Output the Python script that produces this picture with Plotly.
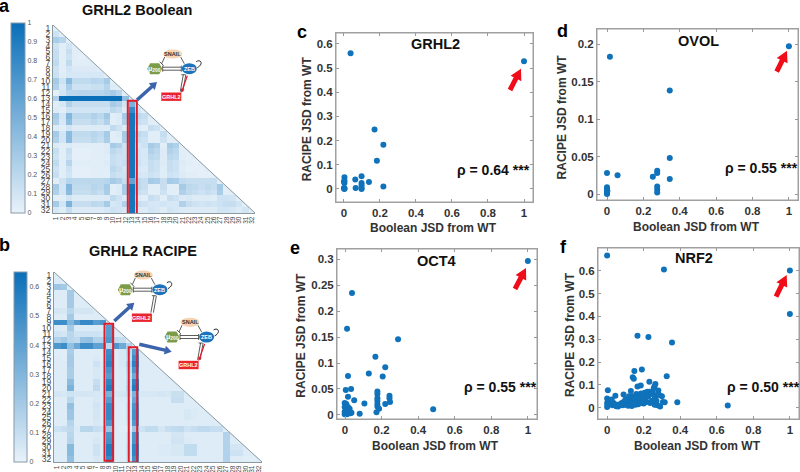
import plotly.graph_objects as go

W, H = 800, 472
FONT = "Liberation Sans"

# ---------- heatmap data (lower triangle, values in percent, rows 2..32) ----------
boolean_rows = [
 [12],
 [28,22],
 [12,3,10],
 [15,3,15,3],
 [15,3,12,3,2],
 [18,3,18,3,3,3],
 [12,3,10,6,6,6,6],
 [13,4,8,8,8,8,8,8],
 [30,12,42,18,18,18,22,20,30],
 [25,8,28,12,12,12,14,14,22,5],
 [2,10,20,20,22,22,22,22,25,30,22],
 [25,100,100,100,100,100,100,100,100,100,100,40],
 [3,8,25,15,15,15,15,15,15,30,25,10,50],
 [5,3,12,10,10,10,10,10,10,20,15,5,80,10],
 [30,10,45,20,20,20,25,20,32,3,5,30,95,20,15],
 [25,8,40,15,15,15,20,15,25,3,5,25,95,15,12,3],
 [5,3,10,5,5,5,5,5,5,18,12,5,95,5,3,15,12],
 [30,10,42,18,18,18,22,18,30,3,5,30,95,20,15,3,3,15],
 [25,10,42,15,15,15,20,15,28,3,4,28,95,15,12,3,3,12,3],
 [5,3,5,3,3,3,3,3,5,30,25,12,95,8,12,30,25,3,30,25],
 [15,3,15,2,2,2,3,3,5,20,15,12,95,10,8,25,20,5,25,20,3],
 [12,3,12,2,2,2,3,3,3,15,12,12,95,10,8,20,18,5,20,18,3,2],
 [18,3,22,3,3,3,3,3,5,15,12,15,95,12,8,15,12,5,15,12,5,3,2],
 [12,3,12,2,2,2,3,3,3,20,15,10,95,8,6,15,12,4,15,12,4,2,2,2],
 [15,3,10,2,2,2,3,3,3,15,12,12,95,10,8,12,10,4,12,10,5,3,3,2,2],
 [3,12,22,20,20,20,20,20,22,30,25,15,60,20,15,30,28,15,30,28,18,15,15,15,15,15],
 [30,10,45,18,18,18,22,20,30,3,5,30,95,20,15,3,3,15,3,3,30,20,18,15,18,15,30],
 [25,10,42,15,15,15,20,15,28,3,5,28,95,15,12,3,3,12,3,3,25,18,15,12,15,12,28,3],
 [3,3,10,5,5,5,5,5,6,18,12,5,95,5,3,15,12,3,15,12,6,8,5,5,5,4,12,12,10],
 [30,10,48,15,15,15,20,18,30,8,10,25,95,15,12,8,8,10,8,8,25,15,12,10,12,10,12,15,15,10],
 [8,4,15,5,5,5,5,5,8,12,10,8,95,6,5,10,8,4,10,8,6,5,5,5,5,5,10,10,8,5,10],
]
racipe_rows = [
 [4],
 [22,20],
 [3,3,20],
 [3,3,20,3],
 [3,3,20,3,3],
 [6,5,14,6,6,6],
 [3,3,20,3,3,3,3],
 [50,50,30,42,52,52,42,46],
 [4,3,20,4,4,4,4,3,42],
 [8,6,14,8,8,8,8,6,42,3],
 [16,20,14,12,24,25,16,16,45,12,10],
 [45,50,25,36,50,50,40,40,12,45,35,16],
 [2,2,18,3,3,3,3,2,50,3,5,12,42],
 [3,2,20,3,3,3,4,2,52,3,5,10,50,3],
 [3,3,20,3,3,3,8,3,55,3,5,16,55,3,3],
 [3,3,18,3,3,3,5,3,46,3,4,12,46,3,3,3],
 [3,3,18,3,3,3,5,3,42,3,4,10,36,3,3,3,3],
 [3,3,27,3,3,3,10,3,54,3,4,11,54,3,3,3,3,3],
 [3,3,32,3,3,3,12,3,58,3,4,13,58,3,3,3,3,3,3],
 [6,5,8,6,6,6,5,4,32,5,6,10,32,5,5,5,6,5,9,9],
 [3,3,14,3,3,3,5,3,42,3,4,6,38,3,3,3,3,3,10,10,3],
 [3,3,25,3,3,3,7,3,52,3,3,8,46,3,3,3,3,3,3,3,3,3],
 [3,3,22,3,3,3,6,3,52,3,3,8,48,3,3,3,3,3,3,3,5,4,3],
 [3,3,22,3,3,3,6,3,52,3,3,8,48,3,3,3,3,3,3,3,5,4,3,3],
 [3,3,15,3,3,3,5,3,46,3,3,6,44,3,3,3,3,3,3,3,3,3,3,3,3],
 [8,10,12,4,14,14,10,8,22,3,2,2,22,8,11,11,6,10,11,12,8,10,12,12,10,10],
 [3,3,14,3,3,3,4,3,46,3,3,6,46,3,3,3,3,3,6,6,3,3,3,3,3,3,16],
 [3,3,15,3,3,3,5,3,48,3,3,6,46,3,3,3,3,3,7,7,4,3,3,3,3,3,16,3],
 [3,3,28,3,3,3,8,3,58,3,3,8,54,3,3,3,4,4,5,5,11,11,3,3,3,3,16,6,6],
 [3,3,28,3,3,3,8,3,58,3,3,8,54,3,3,3,4,4,5,5,11,11,3,3,3,3,16,8,8,3],
 [3,3,25,3,3,3,5,3,52,3,3,6,48,3,3,3,3,3,3,3,3,3,3,3,3,3,16,3,3,2,2],
]
cell_labels = [str(i) for i in range(1, 33)]
bool_cbar_ticks = [0,0.1,0.2,0.3,0.4,0.5,0.6,0.7,0.8,0.9,1]
racipe_cbar_ticks = [0,0.1,0.2,0.3,0.4,0.5,0.6]

# ---------- scatter data ----------
c_x = [.037,1,.17,.219,.183,.098,.063,.139,.219,.065,.098,.098,.098,.098,.003,.003,.003,0,.004,0,.002]
c_y = [.561,.528,.246,.183,.117,.052,.039,.029,.01,.004,.025,.015,.004,0,.048,.034,.025,.004,.002,.03,.0]
d_x = [.016,1,.345,.345,.345,.276,.276,.252,.276,.276,.276,.058,0,0,0,0,0,0,0,.002]
d_y = [.183,.197,.138,.048,.02,.031,.028,.023,.01,.006,.002,.025,.028,.009,.007,.005,.003,.001,0,.004]
e_x = [1,.038,.011,.29,.166,.22,.13,.206,.016,.033,.004,.016,.05,.106,.08,.482,.177,.177,.177,.177,.177,.177,.186,.172,.243,.243,.246,.22,
       -.002,.007,-.002,.016,.025,.007,-.002,.016,.035,-.002,.011,.029,.022]
e_y = [.297,.235,.166,.146,.112,.092,.08,.074,.075,.05,.048,.035,.028,.022,.002,.011,.045,.04,.032,.027,.021,.016,.012,.005,.037,.032,.025,.021,
       .023,.021,.015,.015,.012,.009,.006,.006,.004,.001,.001,.003,.009]
f_x = [0,.311,1,1,.166,.226,.355,.19,.149,.14,.146,.326,.231,.264,.259,.166,.184,.004,.66,.384,.315,
       0,0,0,.005,.01,.015,.02,.03,.035,.04,.045,.05,.055,.06,.07,.08,.085,.09,.09,.1,.105,.11,.115,.12,.125,.13,.135,.135,.14,.145,.15,.155,.16,.165,.17,.175,.18,.185,.19,.195,.2,.205,.21,.215,.22,.225,.23,.235,.24,.245,.25,.255,.26,.265,.27,.275,.28,.285,.29,.3,.305,.145,.165,.185,.21,.26,.28,.002,.012,.025,.1,.12]
f_y = [.667,.606,.601,.411,.315,.31,.285,.167,.161,.133,.126,.138,.113,.104,.092,.092,.097,.076,.009,.023,.023,
       .04,.02,.003,.028,.012,.03,.018,.01,.02,.015,.052,.006,.012,.005,.015,.02,.01,.057,.025,.012,.03,.02,.008,.04,.014,.073,.025,.007,.05,.02,.035,.012,.06,.028,.015,.05,.04,.02,.06,.03,.018,.065,.045,.025,.07,.05,.07,.02,.06,.03,.065,.085,.04,.05,.03,.01,.075,.055,.005,.05,.025,.015,.045,.062,.035,.012,.06,.01,.02,.035,.035,.05]

scatter_xticks = [0,.2,.4,.6,.8,1]
panels = [
 dict(x=c_x,y=c_y,box=(336,533,33,202),xr=(-.044,1.05),yr=(-.054,.645),yt=[0,.1,.2,.3,.4,.5,.6]),
 dict(x=d_x,y=d_y,box=(597,798,29,200),xr=(-.055,1.05),yr=(-.008,.22),yt=[0,.05,.1,.15,.2]),
 dict(x=e_x,y=e_y,box=(337,537,249,419),xr=(-.044,1.05),yr=(-.008,.32),yt=[0,.05,.1,.15,.2,.25,.3]),
 dict(x=f_x,y=f_y,box=(598,799,248,419),xr=(-.05,1.05),yr=(-.05,.70),yt=[0,.1,.2,.3,.4,.5,.6]),
]

def px(x): return x / W
def py(y): return 1 - y / H

fig = go.Figure()
shapes, notes = [], []

def text(x, y, s, size=12, color="#222222", bold=True, angle=0):
    notes.append(dict(xref="paper", yref="paper", x=px(x), y=py(y), text=s, showarrow=False,
                      xanchor="center", yanchor="middle", textangle=angle,
                      font=dict(family=FONT, size=size, color=color, weight="bold" if bold else "normal")))

def matrix(rows, diag=3):
    z = [[diag/100] + [None]*31]
    for i, r in enumerate(rows):
        assert len(r) == i + 1, (i, len(r))
        z.append([v/100 for v in r] + [diag/100] + [None]*(30 - i))
    return z

SCALE = [[0, "#e8f2fa"], [1, "#0a6fb9"]]
hm = [
 dict(rows=boolean_rows, box=(53,255,25,213), zmax=1, ticks=bool_cbar_ticks, cb=(10.7,22.7,189.5,13.6)),
 dict(rows=racipe_rows, box=(54,262,272,462), zmax=.65, ticks=racipe_cbar_ticks, cb=(14,272,190,13)),
]
axn = 1
for h in hm:
    x0,x1,y0,y1 = h["box"]
    sx = "" if axn == 1 else str(axn)
    fig.add_trace(go.Heatmap(z=matrix(h["rows"]), x=list(range(1,33)), y=list(range(1,33)),
        zmin=0, zmax=h["zmax"], colorscale=SCALE, hoverongaps=False, xgap=0, ygap=0,
        xaxis="x"+sx, yaxis="y"+sx,
        colorbar=dict(x=px(h["cb"][0]), xanchor="left", y=py(h["cb"][1]), yanchor="top",
            len=h["cb"][2]/H, lenmode="fraction", thickness=h["cb"][3], thicknessmode="pixels",
            xpad=0, ypad=0, outlinecolor="#8a9aa8", outlinewidth=1, tickvals=h["ticks"],
            ticks="", ticklabelposition="outside",
            tickfont=dict(family=FONT, size=7, color="#555555"))))
    fig.update_layout({
        "xaxis"+sx: dict(domain=[px(x0),px(x1)], range=[.5,32.5], tickvals=list(range(1,33)), ticktext=cell_labels,
            tickangle=-90, tickfont=dict(family=FONT,size=6.5,color="#444444"), ticks="", showgrid=False, zeroline=False,
            showline=True, linecolor="#8a9a9f", linewidth=1, anchor="y"+sx),
        "yaxis"+sx: dict(domain=[py(y1),py(y0)], range=[32.5,.5], tickvals=list(range(1,33)), ticktext=cell_labels,
            tickfont=dict(family=FONT,size=8.5,color="#444444"), ticks="", showgrid=False, zeroline=False,
            showline=True, linecolor="#8a9a9f", linewidth=1, anchor="x"+sx),
    })
    # white mask above the diagonal with the grey edge
    shapes.append(dict(type="path", xref="x"+sx, yref="y"+sx,
        path="M 0.5 0.5 L 32.6 32.5 L 33 0.5 Z", fillcolor="white", line=dict(width=0), layer="above"))
    shapes.append(dict(type="line", xref="x"+sx, yref="y"+sx, x0=.5,y0=.5,x1=32.5,y1=32.5,
        line=dict(color="#8a9a9f",width=1), layer="above"))
    axn += 1

# red column boxes
for ax, (a,b,c,d) in [("",(12.35,13.78,13.4,33.0)), ("2",(8.27,9.6,9.2,32.3)), ("2",(12.0,13.3,13.17,32.6))]:
    shapes.append(dict(type="rect", xref="x"+ax, yref="y"+ax, x0=a,x1=b,y0=c,y1=d,
        line=dict(color="#e01b2a",width=2), layer="above"))

# scatter panels
for p in panels:
    x0,x1,y0,y1 = p["box"]
    sx = str(axn)
    fig.add_trace(go.Scatter(x=p["x"], y=p["y"], mode="markers", marker=dict(color="#0f72ba", size=6),
                             xaxis="x"+sx, yaxis="y"+sx, showlegend=False))
    tick = dict(ticks="inside", ticklen=3, tickcolor="#999999", mirror="ticks", showline=True, linecolor="#a0a0a0",
                linewidth=1, showgrid=False, zeroline=False,
                tickfont=dict(family=FONT,size=11.5,color="#333333",weight="bold"))
    fig.update_layout({
        "xaxis"+sx: dict(domain=[px(x0),px(x1)], range=list(p["xr"]), tickvals=scatter_xticks,
                         ticktext=["0","0.2","0.4","0.6","0.8","1"], anchor="y"+sx, **tick),
        "yaxis"+sx: dict(domain=[py(y1),py(y0)], range=list(p["yr"]), tickvals=p["yt"],
                         ticktext=[f"{v:g}" for v in p["yt"]], anchor="x"+sx, **tick),
    })
    shapes.append(dict(type="rect", xref="paper", yref="paper", x0=px(x0),x1=px(x1),y0=py(y0),y1=py(y1),
                       line=dict(color="#a0a0a0",width=1), layer="below"))
    axn += 1

def arrow(tx, ty, hx, hy, color, shaft=3.6, head=11, headlen=11):
    dx, dy = hx-tx, hy-ty
    L = (dx*dx+dy*dy)**.5
    ux, uy = dx/L, dy/L
    nx, ny = -uy, ux
    bx, by = hx-ux*headlen, hy-uy*headlen
    pts = [(tx+nx*shaft/2,ty+ny*shaft/2),(bx+nx*shaft/2,by+ny*shaft/2),(bx+nx*head/2,by+ny*head/2),(hx,hy),
           (bx-nx*head/2,by-ny*head/2),(bx-nx*shaft/2,by-ny*shaft/2),(tx-nx*shaft/2,ty-ny*shaft/2)]
    path = "M " + " L ".join(f"{px(a):.5f} {py(b):.5f}" for a,b in pts) + " Z"
    shapes.append(dict(type="path", xref="paper", yref="paper", path=path, fillcolor=color, line=dict(width=0), layer="above"))

RED = "#f00d1a"
arrow(510,90,521,68.7,RED,5,12,11)
arrow(776.7,71.7,787,50.7,RED,5,12,11)
arrow(515,289,526,268,RED,5,12,11)
arrow(776,296.7,786.7,275,RED,5,12,11)
BLUE = "#3c64ad"
arrow(137,100,157,82,BLUE,3.5,9,7)
arrow(114.3,321,134.3,302.7,BLUE,3.5,9,7)
arrow(139.3,344.3,171.7,351.7,BLUE,3.5,9,7)

def seg(x0,y0,x1,y1,color="#333333",w=.8):
    shapes.append(dict(type="line", xref="paper", yref="paper", x0=px(x0),y0=py(y0),x1=px(x1),y1=py(y1),
                       line=dict(color=color,width=w), layer="above"))

def ell(cx,cy,rx,ry,color):
    shapes.append(dict(type="circle", xref="paper", yref="paper", x0=px(cx-rx),x1=px(cx+rx),y0=py(cy-ry),y1=py(cy+ry),
                       fillcolor=color, line=dict(width=0), layer="above"))

def network(sx, sy, red):
    mx, my = sx-18, sy+14.7
    zx, zy = sx+16.6, sy+14.7
    gx, gy = sx-1.4, sy+42.7
    # edges
    seg(sx-8,sy+3,mx+7,my-5); seg(mx+5,my-7,mx+9,my-3)
    seg(sx+8,sy+3,zx-5,zy-5)
    seg(mx+8,my-1.5,zx-8,zy-1.5); seg(mx+8,my+1.5,zx-8,zy+1.5)
    seg(mx+8,my-3,mx+8,my+3); seg(zx-8,zy-3,zx-8,zy+3)
    seg(zx-6,zy+6,zx-9,gy-5); seg(zx-3.5,zy+6,zx-6.5,gy-5)
    seg(zx-8,zy+6,zx-4,zy+6)
    if red:
        arrow(zx-2,zy+7,zx-8,gy-4,"#e01b2a",1.2,4,4)
    # self loop
    a, b = zx+7, zy-4
    shapes.append(dict(type="path", xref="paper", yref="paper", layer="above", line=dict(color="#222222",width=1),
        path=f"M {px(a):.5f} {py(b-3):.5f} C {px(a+4):.5f} {py(b-6):.5f} {px(a+8):.5f} {py(b-1):.5f} {px(a+1):.5f} {py(b+3):.5f}"))
    # nodes
    ell(sx,sy,9.5,4.6,"#f6d3b3")
    hexa = [(mx-7.5,my),(mx-4.5,my-5.5),(mx+4.5,my-5.5),(mx+7.5,my),(mx+4.5,my+5.5),(mx-4.5,my+5.5)]
    shapes.append(dict(type="path", xref="paper", yref="paper", layer="above", fillcolor="#7d9c49", line=dict(width=0),
        path="M "+" L ".join(f"{px(a):.5f} {py(b):.5f}" for a,b in hexa)+" Z"))
    ell(zx,zy,7.5,5.5,"#1c72bb")
    shapes.append(dict(type="rect", xref="paper", yref="paper", layer="above", x0=px(gx-10),x1=px(gx+10),y0=py(gy-4.2),y1=py(gy+4.2),
                       fillcolor="#e8242c", line=dict(width=0)))
    text(sx,sy,"SNAIL",5.5,"#333333")
    text(mx,my,"μ<sub>200</sub>",7,"white")
    text(zx,zy,"ZEB",5.5,"white")
    text(gx,gy,"GRHL2",5.5,"white")

network(172.7,54,True)
network(143.3,275,False)
network(190,322.3,True)

# texts
text(136.7,9.5,"GRHL2 Boolean",14.5,"#111111")
text(143.3,251,"GRHL2 RACIPE",14.5,"#111111")
for x,y,s in [(4.5,6,"a"),(4.5,245,"b"),(301.7,32,"c"),(562.7,31,"d"),(295,248,"e"),(563,247,"f")]:
    text(x,y,s,18,"#000000")
for x,y,s in [(435.7,44,"GRHL2"),(698.7,40.7,"OVOL"),(436.3,260.7,"OCT4"),(694,258.3,"NRF2")]:
    text(x,y,s,14.5,"#111111")
for x,y,s in [(493,170,"ρ = 0.64 ***"),(761,168,"ρ = 0.55 ***"),(500.7,386.7,"ρ = 0.55 ***"),(763,387,"ρ = 0.50 ***")]:
    text(x,y,s,14,"#111111")
for x,y in [(433.7,228.3),(696,226.7),(435.7,445.7),(697.3,446)]:
    text(x,y,"Boolean JSD from WT",12,"#333333")
for x,y in [(307.3,119),(561.7,116.7),(301,335.7),(570,335)]:
    text(x,y,"RACIPE JSD from WT",12,"#333333",angle=-90)

fig.update_layout(width=W, height=H, margin=dict(l=0,r=0,t=0,b=0,autoexpand=False), paper_bgcolor="white", plot_bgcolor="white",
                  showlegend=False, shapes=shapes, annotations=notes)
fig.write_html("out.html", config={"displayModeBar": False},
               post_script="document.body.style.margin='0';document.body.style.overflow='hidden';")
